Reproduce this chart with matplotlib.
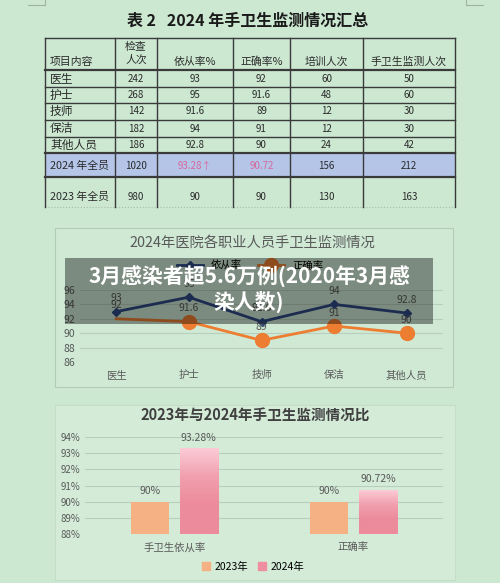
import numpy as np
import matplotlib
matplotlib.use("Agg")
import matplotlib.pyplot as plt
from matplotlib.patches import Rectangle, Patch
from matplotlib.colors import LinearSegmentedColormap

plt.rcParams['font.family'] = ['Noto Sans CJK SC', 'DejaVu Sans']

# --- table data ---
roles = ['医生', '护士', '技师', '保洁', '其他人员']
checks = [242, 268, 142, 182, 186]
compliance = [93, 95, 91.6, 94, 92.8]
correct = [92, 91.6, 89, 91, 90]
training = [60, 48, 12, 12, 24]
monitor = [50, 60, 30, 30, 42]
total_2024 = ['2024 年全员', '1020', '93.28↑', '90.72', '156', '212']
total_2023 = ['2023 年全员', '980', '90', '90', '130', '163']
headers = ['项目内容', '检查\n人次', '依从率%', '正确率%', '培训人次', '手卫生监测人次']

# --- bar chart data ---
bar_cats = ['手卫生依从率', '正确率']
rate_2023 = [90, 90]
rate_2024 = [93.28, 90.72]

BG = '#cce8d1'
GRAY = '#595959'
W, H = 500, 583


def fx(x):
    return x / W


def fy(y):
    return 1 - y / H


def box(x0, y0, x1, y1):
    return [fx(x0), fy(y1), (x1 - x0) / W, (y1 - y0) / H]


fig = plt.figure(figsize=(5, 5.83), dpi=100, facecolor=BG)

page = fig.add_axes([0, 0, 1, 1], zorder=0)
page.set_xlim(0, W)
page.set_ylim(H, 0)
page.axis('off')

# page corner marks
for xs, ys in [([28, 45], [5, 5]), ([45, 45], [0, 5]), ([466, 466], [0, 5]), ([466, 483], [5, 5])]:
    page.plot(xs, ys, color='#9fb3a3', lw=0.8)

# === table ===
page.text(248, 21, '表 2   2024 年手卫生监测情况汇总', ha='center', va='center',
          fontsize=11.5, fontweight='bold', color='#1a1a1a')

col_edges = [45, 115, 157, 233, 290, 363, 455]
row_edges = [38, 70, 87, 103, 120, 137, 153, 177, 207]
centers = [(col_edges[i] + col_edges[i + 1]) / 2 for i in range(6)]
INK = '#2a2a2a'

page.add_patch(Rectangle((45, 153), 410, 24, fc='#b4c5e8', ec='none'))
for y in row_edges[:-1]:
    lw = 1.6 if y in (70, 153, 177) else 1.0
    page.plot([45, 455], [y, y], color='#3a3a3a', lw=lw)
page.plot([45, 455], [207, 207], color='#a8bcab', lw=0.8, ls=':')
for x in col_edges:
    page.plot([x, x], [38, 207], color='#3a3a3a', lw=1.0)

for i, h in enumerate(headers):
    if i == 0:
        page.text(50, 62, h, ha='left', va='center', fontsize=7.8, color=INK)
    elif i == 1:
        page.text(centers[i], 53, h, ha='center', va='center', fontsize=7.8,
                  color=INK, linespacing=1.35)
    else:
        page.text(centers[i], 62, h, ha='center', va='center', fontsize=7.8, color=INK)

rows = [[r, c, a, b, t, m] for r, c, a, b, t, m in
        zip(roles, checks, compliance, correct, training, monitor)]
row_y = [78.5, 95, 111.5, 128.5, 145]
for y, row in zip(row_y, rows):
    for i, v in enumerate(row):
        if i == 0:
            page.text(50, y, v, ha='left', va='center', fontsize=8.5, color=INK)
        else:
            page.text(centers[i], y, f'{v:g}', ha='center', va='center', fontsize=7, color=INK)

for y, row in [(166, total_2024), (197, total_2023)]:
    for i, v in enumerate(row):
        if i == 0:
            page.text(50, y, v, ha='left', va='center', fontsize=7.8, color=INK)
        else:
            c = '#d8679b' if (row is total_2024 and i in (2, 3)) else INK
            page.text(centers[i], y, v, ha='center', va='center', fontsize=7, color=c)

# === line chart panel ===
page.add_patch(Rectangle((55, 228), 398, 159, fc='#cfe9d4', ec='#b3ccb7', lw=0.8))
fig.text(fx(252), fy(243), '2024年医院各职业人员手卫生监测情况', ha='center', va='center',
         fontsize=10.3, color=GRAY)

ax1 = fig.add_axes(box(80, 290, 443, 362), zorder=2)
ax1.patch.set_alpha(0)
x = np.arange(len(roles))
l1, = ax1.plot(x, compliance, color='#2e4a86', lw=2, marker='D', ms=4, label='依从率')
l2, = ax1.plot(x, correct, color='#ed7d31', lw=2, marker='o', ms=10,
               markevery=[1, 2, 3, 4], label='正确率')
for i in range(len(roles)):
    ax1.annotate(f'{compliance[i]:g}', (i, compliance[i]), xytext=(0, 6), textcoords='offset points',
                 ha='center', va='bottom', fontsize=7.5, color=GRAY, annotation_clip=False)
    ax1.annotate(f'{correct[i]:g}', (i, correct[i]), xytext=(0, 6), textcoords='offset points',
                 ha='center', va='bottom', fontsize=7.5, color=GRAY, annotation_clip=False)
ax1.set_xlim(-0.5, 4.5)
ax1.set_ylim(86, 96)
ax1.set_yticks(range(86, 97, 2))
ax1.set_xticks(x, roles)
ax1.tick_params(length=0, labelsize=7.5, labelcolor=GRAY)
ax1.tick_params(axis='x', pad=6)
ax1.grid(axis='y', color='#b9cfbd', lw=0.8)
ax1.set_axisbelow(True)
for s in ax1.spines.values():
    s.set_visible(False)
fig.legend(handles=[l1, l2], loc='center', bbox_to_anchor=(fx(250), fy(266)), ncol=2,
           frameon=False, fontsize=7.5, handlelength=2.5, columnspacing=1.5)

# === bar chart panel ===
page.add_patch(Rectangle((55, 405), 400, 175, fc='#d3ebd7', ec='#c4dcc8', lw=0.8))
fig.text(fx(255), fy(415), '2023年与2024年手卫生监测情况比', ha='center', va='center',
         fontsize=10.5, fontweight='bold', color='#404040')

ax2 = fig.add_axes(box(85, 437, 443, 534), zorder=2)
ax2.patch.set_alpha(0)
xb = np.arange(len(bar_cats))
b1 = ax2.bar(xb - 0.136, rate_2023, width=0.215, color='#f5b183', zorder=2)
b2 = ax2.bar(xb + 0.136, rate_2024, width=0.215, color='#ef8e9e', zorder=2)
pink = LinearSegmentedColormap.from_list('pink', ['#fbcbd5', '#f19fae', '#ec8b9b', '#ec8b9b'])
grad = np.linspace(0, 1, 100).reshape(-1, 1)
for p in b2:
    ax2.imshow(grad, extent=[p.get_x(), p.get_x() + p.get_width(), 88, p.get_height()],
               origin='upper', aspect='auto', cmap=pink, zorder=3)
for bars, vals in [(b1, rate_2023), (b2, rate_2024)]:
    for p, v in zip(bars, vals):
        ax2.annotate(f'{v:g}%', (p.get_x() + p.get_width() / 2, v), xytext=(0, 4),
                     textcoords='offset points', ha='center', va='bottom', fontsize=7.5,
                     color=GRAY, annotation_clip=False)
ax2.set_xlim(-0.5, 1.5)
ax2.set_ylim(88, 94)
ax2.set_yticks(range(88, 95))
ax2.set_yticklabels([f'{v}%' for v in range(88, 95)])
ax2.set_xticks(xb, bar_cats)
ax2.tick_params(length=0, labelsize=7, labelcolor=GRAY)
ax2.tick_params(axis='x', pad=6, labelsize=7.5)
ax2.grid(axis='y', color='#b9cfbd', lw=0.8)
ax2.set_axisbelow(True)
for s in ax2.spines.values():
    s.set_visible(False)
fig.legend(handles=[Patch(color='#f5b183', label='2023年'), Patch(color='#ef8e9e', label='2024年')],
           loc='center', bbox_to_anchor=(fx(253), fy(567)), ncol=2, frameon=False, fontsize=7.5,
           handlelength=0.8, handleheight=0.8, columnspacing=1.0, handletextpad=0.4)

# === caption overlay ===
over = fig.add_axes([0, 0, 1, 1], zorder=10)
over.set_xlim(0, W)
over.set_ylim(H, 0)
over.axis('off')
over.add_patch(Rectangle((65, 258), 368, 66, fc='black', alpha=0.4, ec='none'))
over.text(249, 289.5, '3月感染者超5.6万例(2020年3月感\n染人数)', ha='center', va='center',
          color='white', fontsize=15, fontweight='bold', linespacing=1.2)

fig.savefig('out.png', dpi=100, facecolor=BG)
